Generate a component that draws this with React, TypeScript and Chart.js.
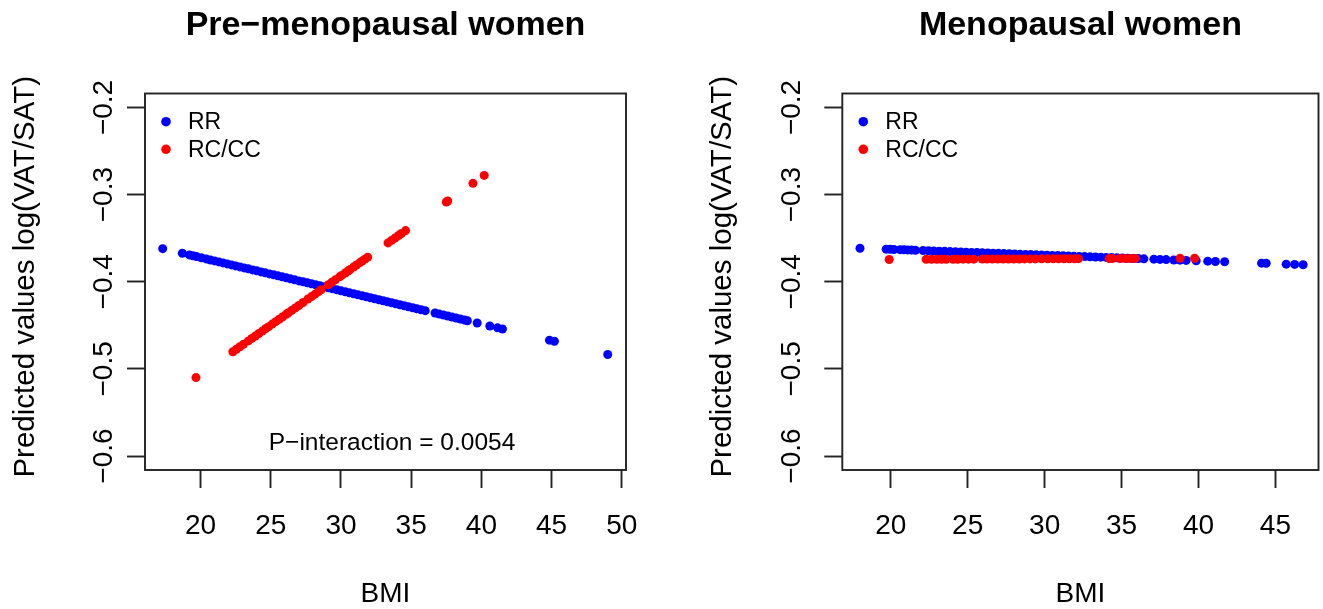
import { useEffect, useRef } from "react";
import { Chart, registerables } from "chart.js";

Chart.register(...registerables);

const FONT = '"Liberation Sans", Arial, Helvetica, sans-serif';

// ---- Data ----
const PRE_RR_BMI = [
  17.3, 18.7, 19.2, 19.45, 19.7, 20.05, 20.4, 20.7, 21.0, 21.3, 21.6, 21.9, 22.2, 22.5, 22.8, 23.1,
  23.4, 23.7, 24.0, 24.3, 24.6, 24.9, 25.2, 25.5, 25.8, 26.1, 26.4, 26.7, 27.0, 27.3, 27.6, 27.9,
  28.2, 28.5, 28.8, 29.1, 29.4, 29.7, 30.0, 30.3, 30.6, 30.9, 31.2, 31.5, 31.8, 32.1, 32.4, 32.7,
  33.0, 33.3, 33.6, 33.9, 34.2, 34.5, 34.8, 35.1, 35.4, 35.7, 36.0, 36.7, 37.0, 37.3, 37.6, 37.9,
  38.2, 38.5, 38.8, 39.0, 39.7, 40.6, 41.15, 41.5, 44.85, 45.2, 49.0,
];
const PRE_RR_PRED = [
  -0.362, -0.3673, -0.3692, -0.3702, -0.3711, -0.3725, -0.3738, -0.375, -0.3761, -0.3772, -0.3784,
  -0.3795, -0.3807, -0.3818, -0.383, -0.3841, -0.3852, -0.3864, -0.3875, -0.3887, -0.3898, -0.391,
  -0.3921, -0.3932, -0.3944, -0.3955, -0.3967, -0.3978, -0.399, -0.4001, -0.4012, -0.4024, -0.4035,
  -0.4047, -0.4058, -0.407, -0.4081, -0.4092, -0.4104, -0.4115, -0.4127, -0.4138, -0.415, -0.4161,
  -0.4172, -0.4184, -0.4195, -0.4207, -0.4218, -0.423, -0.4241, -0.4252, -0.4264, -0.4275, -0.4287,
  -0.4298, -0.431, -0.4321, -0.4332, -0.4359, -0.4371, -0.4382, -0.4393, -0.4405, -0.4416, -0.4428,
  -0.4439, -0.4447, -0.4473, -0.4508, -0.4529, -0.4542, -0.467, -0.4683, -0.4835,
];
const PRE_RCCC_BMI = [
  19.67, 22.3, 22.55, 22.8, 23.05, 23.4, 23.65, 23.9, 24.15, 24.4, 24.65, 24.85, 25.1, 25.35, 25.6,
  25.85, 26.1, 26.25, 26.5, 26.75, 27.0, 27.3, 27.65, 27.9, 28.15, 28.4, 28.6, 29.1, 29.35, 29.6,
  29.9, 30.05, 30.3, 30.5, 30.65, 30.9, 31.1, 31.35, 31.5, 31.7, 31.9, 33.35, 33.6, 33.85, 34.1,
  34.3, 34.6, 37.5, 37.6, 39.4, 40.2,
];
const PRE_RCCC_PRED = [
  -0.51, -0.4803, -0.4775, -0.4746, -0.4718, -0.4679, -0.465, -0.4622, -0.4594, -0.4566, -0.4537,
  -0.4515, -0.4486, -0.4458, -0.443, -0.4402, -0.4373, -0.4356, -0.4328, -0.43, -0.4272, -0.4238,
  -0.4198, -0.417, -0.4142, -0.4114, -0.4091, -0.4034, -0.4006, -0.3978, -0.3944, -0.3927, -0.3899,
  -0.3876, -0.3859, -0.3831, -0.3808, -0.378, -0.3763, -0.3741, -0.3718, -0.3554, -0.3526, -0.3498,
  -0.3469, -0.3447, -0.3413, -0.3085, -0.3074, -0.2871, -0.278,
];
const MENO_RR_BMI = [
  18.0, 19.7, 19.95, 20.2, 20.6, 20.85, 21.1, 21.35, 21.6, 22.1, 22.45, 22.8, 23.15, 23.5, 23.85,
  24.2, 24.55, 24.9, 25.25, 25.6, 25.95, 26.3, 26.65, 27.0, 27.35, 27.7, 28.05, 28.4, 28.75, 29.1,
  29.45, 29.8, 30.15, 30.5, 30.85, 31.2, 31.55, 31.9, 32.25, 32.6, 32.95, 33.3, 33.65, 34.0, 34.35,
  34.7, 35.05, 35.4, 35.75, 36.1, 36.45, 37.1, 37.5, 37.9, 38.4, 38.8, 39.2, 39.85, 40.6, 41.1,
  41.7, 44.1, 44.4, 45.7, 46.25, 46.8,
];
const MENO_RR_PRED = [
  -0.3615, -0.3626, -0.3628, -0.363, -0.3632, -0.3634, -0.3635, -0.3637, -0.3639, -0.3642, -0.3644,
  -0.3647, -0.3649, -0.3651, -0.3654, -0.3656, -0.3658, -0.3661, -0.3663, -0.3665, -0.3667, -0.367,
  -0.3672, -0.3674, -0.3677, -0.3679, -0.3681, -0.3684, -0.3686, -0.3688, -0.3691, -0.3693, -0.3695,
  -0.3698, -0.37, -0.3702, -0.3704, -0.3707, -0.3709, -0.3711, -0.3714, -0.3716, -0.3718, -0.3721,
  -0.3723, -0.3725, -0.3728, -0.373, -0.3732, -0.3734, -0.3737, -0.3741, -0.3744, -0.3746, -0.375,
  -0.3752, -0.3755, -0.3759, -0.3764, -0.3767, -0.3771, -0.3787, -0.3789, -0.3798, -0.3801, -0.3805,
];
const MENO_RCCC_BMI = [
  19.9, 22.3, 22.65, 23.0, 23.3, 23.6, 24.05, 24.35, 24.7, 25.05, 25.4, 25.95, 26.25, 26.6, 26.95,
  27.3, 27.65, 28.0, 28.35, 28.7, 29.05, 29.4, 29.8, 30.2, 30.55, 30.9, 31.25, 31.6, 31.95, 32.2,
  34.2, 34.4, 34.9, 35.25, 35.6, 35.9, 38.8, 39.75,
];
const MENO_RCCC_PRED = [
  -0.3745, -0.3743, -0.3743, -0.3743, -0.3742, -0.3742, -0.3742, -0.3742, -0.3741, -0.3741, -0.3741,
  -0.374, -0.374, -0.374, -0.374, -0.3739, -0.3739, -0.3739, -0.3739, -0.3738, -0.3738, -0.3738,
  -0.3737, -0.3737, -0.3737, -0.3736, -0.3736, -0.3736, -0.3736, -0.3735, -0.3734, -0.3734, -0.3733,
  -0.3733, -0.3733, -0.3732, -0.3731, -0.373,
];

const PRE_X_TICKS = [20, 25, 30, 35, 40, 45, 50];
const MENO_X_TICKS = [20, 25, 30, 35, 40, 45];
const Y_TICKS = [-0.6, -0.5, -0.4, -0.3, -0.2];
const GROUPS = ["RR", "RC/CC"];
const TITLES = ["Pre\u2212menopausal women", "Menopausal women"];
const X_TITLE = "BMI";
const Y_TITLE = "Predicted values log(VAT/SAT)";
const P_TEXT = "P\u2212interaction = 0.0054";

const BLUE = "#0000FF";
const RED = "#FF0000";
const INK = "#222222";

type PanelCfg = {
  title: string;
  rrX: number[];
  rrY: number[];
  rcX: number[];
  rcY: number[];
  xTicks: number[];
  xMin: number;
  xMax: number;
  axisW: number;
  padRight: number;
  yTickBase: number;
  yTitleBase: number;
  pText?: { text: string; x: number; y: number };
};

function zip(xs: number[], ys: number[]) {
  return xs.map((x, i) => ({ x, y: ys[i] }));
}

function fmt(v: number) {
  return v.toFixed(1).replace("-", "\u2212");
}

function makeChart(canvas: HTMLCanvasElement, cfg: PanelCfg) {
  const decor = {
    id: "decor",
    afterDraw(chart: any) {
      const { ctx, chartArea: a, scales } = chart;
      ctx.save();
      ctx.strokeStyle = INK;
      ctx.lineWidth = 1.9;
      ctx.strokeRect(a.left, a.top, a.right - a.left, a.bottom - a.top);
      ctx.fillStyle = "#000";
      const cx = (a.left + a.right) / 2;
      // title
      ctx.font = `bold 34px ${FONT}`;
      ctx.textAlign = "center";
      ctx.textBaseline = "alphabetic";
      ctx.fillText(cfg.title, cx, 35);
      // x tick labels
      ctx.font = `28px ${FONT}`;
      for (const v of cfg.xTicks) {
        ctx.fillText(String(v), scales.x.getPixelForValue(v), 533.5);
      }
      ctx.fillText(X_TITLE, cx, 602);
      // y tick labels
      for (const v of Y_TICKS) {
        const py = scales.y.getPixelForValue(v);
        ctx.save();
        ctx.translate(cfg.yTickBase, py);
        ctx.rotate(-Math.PI / 2);
        ctx.fillText(fmt(v), 0, 0);
        ctx.restore();
      }
      // y title
      ctx.font = `29.5px ${FONT}`;
      ctx.save();
      ctx.translate(cfg.yTitleBase, (a.top + a.bottom) / 2 - 5);
      ctx.rotate(-Math.PI / 2);
      ctx.fillText(Y_TITLE, 0, 0);
      ctx.restore();
      // legend
      const cols = [BLUE, RED];
      ctx.font = `23px ${FONT}`;
      ctx.textAlign = "left";
      GROUPS.forEach((g, i) => {
        const y = 121.7 + i * 27.6;
        ctx.fillStyle = cols[i];
        ctx.beginPath();
        ctx.arc(a.left + 21, y, 4.8, 0, Math.PI * 2);
        ctx.fill();
        ctx.fillStyle = "#000";
        ctx.fillText(g, a.left + 43, y + 7.2);
      });
      if (cfg.pText) {
        ctx.font = `24.5px ${FONT}`;
        ctx.textAlign = "center";
        ctx.fillText(cfg.pText.text, cfg.pText.x, cfg.pText.y);
      }
      ctx.restore();
    },
  };

  return new Chart(canvas, {
    type: "scatter",
    data: {
      datasets: [
        {
          label: GROUPS[1],
          data: zip(cfg.rcX, cfg.rcY),
          backgroundColor: RED,
          borderWidth: 0,
          pointRadius: 4.5,
          order: 0,
        },
        {
          label: GROUPS[0],
          data: zip(cfg.rrX, cfg.rrY),
          backgroundColor: BLUE,
          borderWidth: 0,
          pointRadius: 4.5,
          order: 1,
        },
      ],
    },
    options: {
      responsive: false,
      animation: false,
      devicePixelRatio: 1,
      layout: { padding: { top: 93.5, left: 0, right: cfg.padRight, bottom: 0 } },
      plugins: { legend: { display: false }, tooltip: { enabled: false }, title: { display: false } },
      scales: {
        x: {
          type: "linear",
          min: cfg.xMin,
          max: cfg.xMax,
          afterBuildTicks: (s: any) => {
            s.ticks = cfg.xTicks.map((v) => ({ value: v }));
          },
          afterFit: (s: any) => {
            s.height = 139;
          },
          ticks: { display: false },
          border: { display: false },
          grid: {
            drawOnChartArea: false,
            drawTicks: true,
            tickLength: 18,
            tickColor: INK,
            tickWidth: 1.9,
          },
        },
        y: {
          type: "linear",
          min: -0.616,
          max: -0.184,
          afterBuildTicks: (s: any) => {
            s.ticks = Y_TICKS.map((v) => ({ value: v }));
          },
          afterFit: (s: any) => {
            s.width = cfg.axisW;
          },
          ticks: { display: false },
          border: { display: false },
          grid: {
            drawOnChartArea: false,
            drawTicks: true,
            tickLength: 18,
            tickColor: INK,
            tickWidth: 1.9,
          },
        },
      },
    },
    plugins: [decor],
  });
}

export default function App() {
  const leftRef = useRef<HTMLCanvasElement>(null);
  const rightRef = useRef<HTMLCanvasElement>(null);

  useEffect(() => {
    const c1 = makeChart(leftRef.current!, {
      title: TITLES[0],
      rrX: PRE_RR_BMI,
      rrY: PRE_RR_PRED,
      rcX: PRE_RCCC_BMI,
      rcY: PRE_RCCC_PRED,
      xTicks: PRE_X_TICKS,
      xMin: 16.04,
      xMax: 50.3,
      axisW: 145,
      padRight: 35,
      yTickBase: 112,
      yTitleBase: 34,
      pText: { text: P_TEXT, x: 392, y: 450 },
    });
    const c2 = makeChart(rightRef.current!, {
      title: TITLES[1],
      rrX: MENO_RR_BMI,
      rrY: MENO_RR_PRED,
      rcX: MENO_RCCC_BMI,
      rcY: MENO_RCCC_PRED,
      xTicks: MENO_X_TICKS,
      xMin: 16.85,
      xMax: 47.8,
      axisW: 181.3,
      padRight: 1.5,
      yTickBase: 139,
      yTitleBase: 70,
    });
    return () => {
      c1.destroy();
      c2.destroy();
    };
  }, []);

  return (
    <div
      style={{
        position: "fixed",
        left: 0,
        top: 0,
        width: 1323,
        height: 609,
        background: "#fff",
        overflow: "hidden",
      }}
    >
      <canvas
        ref={leftRef}
        width={661}
        height={609}
        style={{ position: "absolute", left: 0, top: 0, width: 661, height: 609 }}
      />
      <canvas
        ref={rightRef}
        width={662}
        height={609}
        style={{ position: "absolute", left: 661, top: 0, width: 662, height: 609 }}
      />
    </div>
  );
}
